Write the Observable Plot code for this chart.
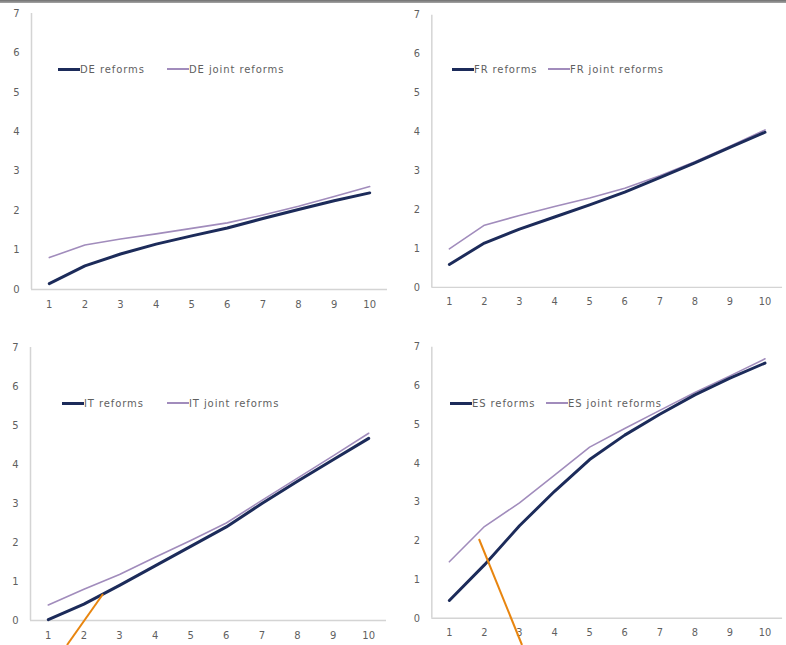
<!DOCTYPE html>
<html>
<head>
<meta charset="utf-8">
<script src="https://cdn.jsdelivr.net/npm/d3@7"></script>
<script src="https://cdn.jsdelivr.net/npm/@observablehq/plot@0.6"></script>
<style>
  html, body { margin: 0; padding: 0; background: #fff; }
  body { width: 786px; height: 645px; position: relative; overflow: hidden; font-family: "DejaVu Sans", sans-serif; }
  .topbar { position: absolute; left: 0; top: 0; width: 786px; height: 3px; background: linear-gradient(#6f6f6f, #a5a5a5); }
  .panel { position: absolute; }
  .legend { position: absolute; font-size: 10px; color: #5f5f5f; white-space: nowrap; letter-spacing: 0.9px; }
  .legend span.sw { display: inline-block; vertical-align: middle; margin-top: -2px; }
  .legend span.item { position: absolute; top: 0; }
  svg.overlay { position: absolute; left: 0; top: 0; pointer-events: none; }
</style>
</head>
<body>
<div class="topbar"></div>
<div id="root"></div>
<script>
// ---- data ----
const years = [1, 2, 3, 4, 5, 6, 7, 8, 9, 10];
const yTicks = [0, 1, 2, 3, 4, 5, 6, 7];

const deReforms = [0.15, 0.60, 0.90, 1.15, 1.36, 1.56, 1.80, 2.03, 2.25, 2.45];
const deJoint   = [0.81, 1.13, 1.28, 1.41, 1.55, 1.69, 1.89, 2.11, 2.36, 2.61];

const frReforms = [0.59, 1.14, 1.50, 1.81, 2.12, 2.45, 2.82, 3.20, 3.60, 3.99];
const frJoint   = [0.99, 1.60, 1.85, 2.08, 2.30, 2.55, 2.87, 3.23, 3.63, 4.05];

const itReforms = [0.02, 0.42, 0.90, 1.40, 1.90, 2.40, 3.00, 3.57, 4.12, 4.67];
const itJoint   = [0.40, 0.80, 1.18, 1.62, 2.05, 2.50, 3.08, 3.65, 4.22, 4.80];

const esReforms = [0.46, 1.38, 2.39, 3.28, 4.10, 4.73, 5.27, 5.77, 6.20, 6.59];
const esJoint   = [1.46, 2.37, 2.98, 3.70, 4.42, 4.90, 5.37, 5.83, 6.26, 6.70];

const countries = ["DE", "FR", "IT", "ES"];
const seriesNames = ["reforms", "joint reforms"];

// ---- styles / layout ----
const darkColor = "#1c2b5a";
const lightColor = "#a18cbc";
const axisColor = "#d4d4d4";

const panels = [
  {c: "DE", a: deReforms, b: deJoint, left: 0,   top: 0,   width: 393, height: 320, ml: 31, mr: 6, mt: 13, mb: 31,
   leg: {top: 64, x1: 58, x2: 167}},
  {c: "FR", a: frReforms, b: frJoint, left: 393, top: 0,   width: 400, height: 320, ml: 39, mr: 4, mt: 15, mb: 28,
   leg: {top: 64, x1: 452, x2: 548}},
  {c: "IT", a: itReforms, b: itJoint, left: 0,   top: 330, width: 393, height: 315, ml: 30, mr: 7, mt: 17, mb: 25,
   leg: {top: 398, x1: 62, x2: 167}},
  {c: "ES", a: esReforms, b: esJoint, left: 393, top: 330, width: 400, height: 315, ml: 39, mr: 4, mt: 17, mb: 22,
   leg: {top: 398, x1: 450, x2: 546}}
];

const root = document.getElementById("root");

for (const p of panels) {
  const rowsA = years.map((t, i) => ({t, v: p.a[i]}));
  const rowsB = years.map((t, i) => ({t, v: p.b[i]}));
  const chart = Plot.plot({
    width: p.width,
    height: p.height,
    marginLeft: p.ml,
    marginRight: p.mr,
    marginTop: p.mt,
    marginBottom: p.mb,
    style: {fontFamily: "DejaVu Sans, sans-serif", fontSize: "10px", color: "#5f5f5f", background: "transparent", overflow: "visible"},
    x: {domain: [0.5, 10.5], label: null},
    y: {domain: [0, 7], label: null},
    marks: [
      Plot.ruleX([0.5], {stroke: axisColor, strokeWidth: 1.5}),
      Plot.ruleY([0], {stroke: axisColor, strokeWidth: 1.5}),
      Plot.axisX({ticks: years, tickSize: 0, tickPadding: 11, tickFormat: d => String(d)}),
      Plot.axisY({ticks: yTicks, tickSize: 0, tickPadding: 12, tickFormat: d => String(d)}),
      Plot.line(rowsB, {x: "t", y: "v", stroke: lightColor, strokeWidth: 1.6}),
      Plot.line(rowsA, {x: "t", y: "v", stroke: darkColor, strokeWidth: 3})
    ]
  });
  const wrap = document.createElement("div");
  wrap.className = "panel";
  wrap.style.left = p.left + "px";
  wrap.style.top = p.top + "px";
  wrap.appendChild(chart);
  root.appendChild(wrap);

  // legend
  const leg = document.createElement("div");
  leg.className = "legend";
  leg.style.left = "0px";
  leg.style.top = p.leg.top + "px";
  const items = [
    {x: p.leg.x1, color: darkColor, h: 3, label: p.c + " " + seriesNames[0]},
    {x: p.leg.x2, color: lightColor, h: 1.6, label: p.c + " " + seriesNames[1]}
  ];
  for (const it of items) {
    const s = document.createElement("span");
    s.className = "item";
    s.style.left = it.x + "px";
    const sw = document.createElement("span");
    sw.className = "sw";
    sw.style.width = "22px";
    sw.style.height = it.h + "px";
    sw.style.background = it.color;
    sw.style.marginRight = "0px";
    s.appendChild(sw);
    s.appendChild(document.createTextNode(it.label));
    leg.appendChild(s);
  }
  root.appendChild(leg);
}

// orange annotation strokes drawn over the picture
const ns = "http://www.w3.org/2000/svg";
const ov = document.createElementNS(ns, "svg");
ov.setAttribute("class", "overlay");
ov.setAttribute("width", 786);
ov.setAttribute("height", 645);
const strokes = [[103, 594, 67, 645], [479, 539, 522, 645]];
for (const [x1, y1, x2, y2] of strokes) {
  const l = document.createElementNS(ns, "line");
  l.setAttribute("x1", x1); l.setAttribute("y1", y1);
  l.setAttribute("x2", x2); l.setAttribute("y2", y2);
  l.setAttribute("stroke", "#e8850f");
  l.setAttribute("stroke-width", 2);
  ov.appendChild(l);
}
document.body.appendChild(ov);
</script>
</body>
</html>
